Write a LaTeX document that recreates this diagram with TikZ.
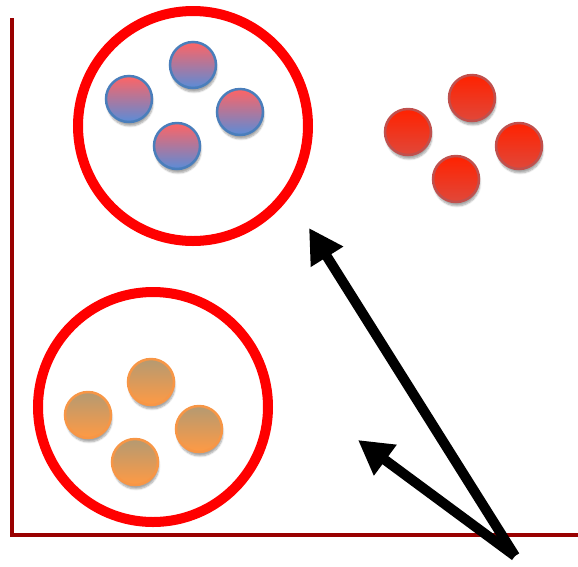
\documentclass[tikz,border=0pt]{standalone}
\usetikzlibrary{arrows.meta,shadows.blur}
\definecolor{axisred}{HTML}{990000}
\definecolor{ringred}{HTML}{FF0000}
\definecolor{bluetop}{HTML}{FF6464}
\definecolor{bluebot}{HTML}{5A8CD8}
\definecolor{bluerim}{HTML}{4A7EBB}
\definecolor{redtop}{HTML}{FF2200}
\definecolor{redbot}{HTML}{E0483A}
\definecolor{redrim}{HTML}{C0504D}
\definecolor{ortop}{HTML}{B49A72}
\definecolor{orbot}{HTML}{FF9A44}
\definecolor{orrim}{HTML}{F79646}
\tikzset{
  x=1pt, y=-1pt,
  ball/.style={circle, inner sep=0pt, minimum size=46pt, line width=2.5pt,
    blur shadow={shadow xshift=1pt, shadow yshift=-4pt, shadow blur steps=6, shadow opacity=35}},
  ballblue/.style={ball, draw=bluerim, top color=bluetop, bottom color=bluebot},
  ballred/.style={ball, draw=redrim, top color=redtop, bottom color=redbot},
  ballorange/.style={ball, draw=orrim, top color=ortop, bottom color=orbot},
  ring/.style={circle, inner sep=0pt, minimum size=230pt, draw=ringred, line width=10pt},
  axis/.style={draw=axisred, line width=4pt},
  vec/.style={draw=black, line width=10pt, -{Triangle[length=34pt,width=36pt]}}
}
\begin{document}
\begin{tikzpicture}
\useasboundingbox (0,0) rectangle (578,566);
% axes
\coordinate (ytop) at (12,18);
\coordinate (origin) at (12,535);
\coordinate (xend) at (578,535);
\draw[axis] (ytop) -- (origin) -- (xend);
% rings
\node[ring] (ringA) at (193,126) {};
\node[ring] (ringB) at (153,407) {};
% blue-pink balls
\node[ballblue] (p1) at (193,65) {};
\node[ballblue] (p2) at (129,99) {};
\node[ballblue] (p3) at (240,112) {};
\node[ballblue] (p4) at (177,146) {};
% red balls
\node[ballred] (r1) at (472,98) {};
\node[ballred] (r2) at (408,132) {};
\node[ballred] (r3) at (519,146) {};
\node[ballred] (r4) at (456,179) {};
% orange balls
\node[ballorange] (o1) at (151,382) {};
\node[ballorange] (o2) at (88,415) {};
\node[ballorange] (o3) at (199,429) {};
\node[ballorange] (o4) at (135,462) {};
% arrows
\coordinate (tail) at (515,556);
\coordinate (tipA) at (309,228);
\coordinate (tipB) at (358,440);
\draw[vec] (tail) -- (tipA);
\draw[vec] (tail) -- (tipB);
\end{tikzpicture}
\end{document}
